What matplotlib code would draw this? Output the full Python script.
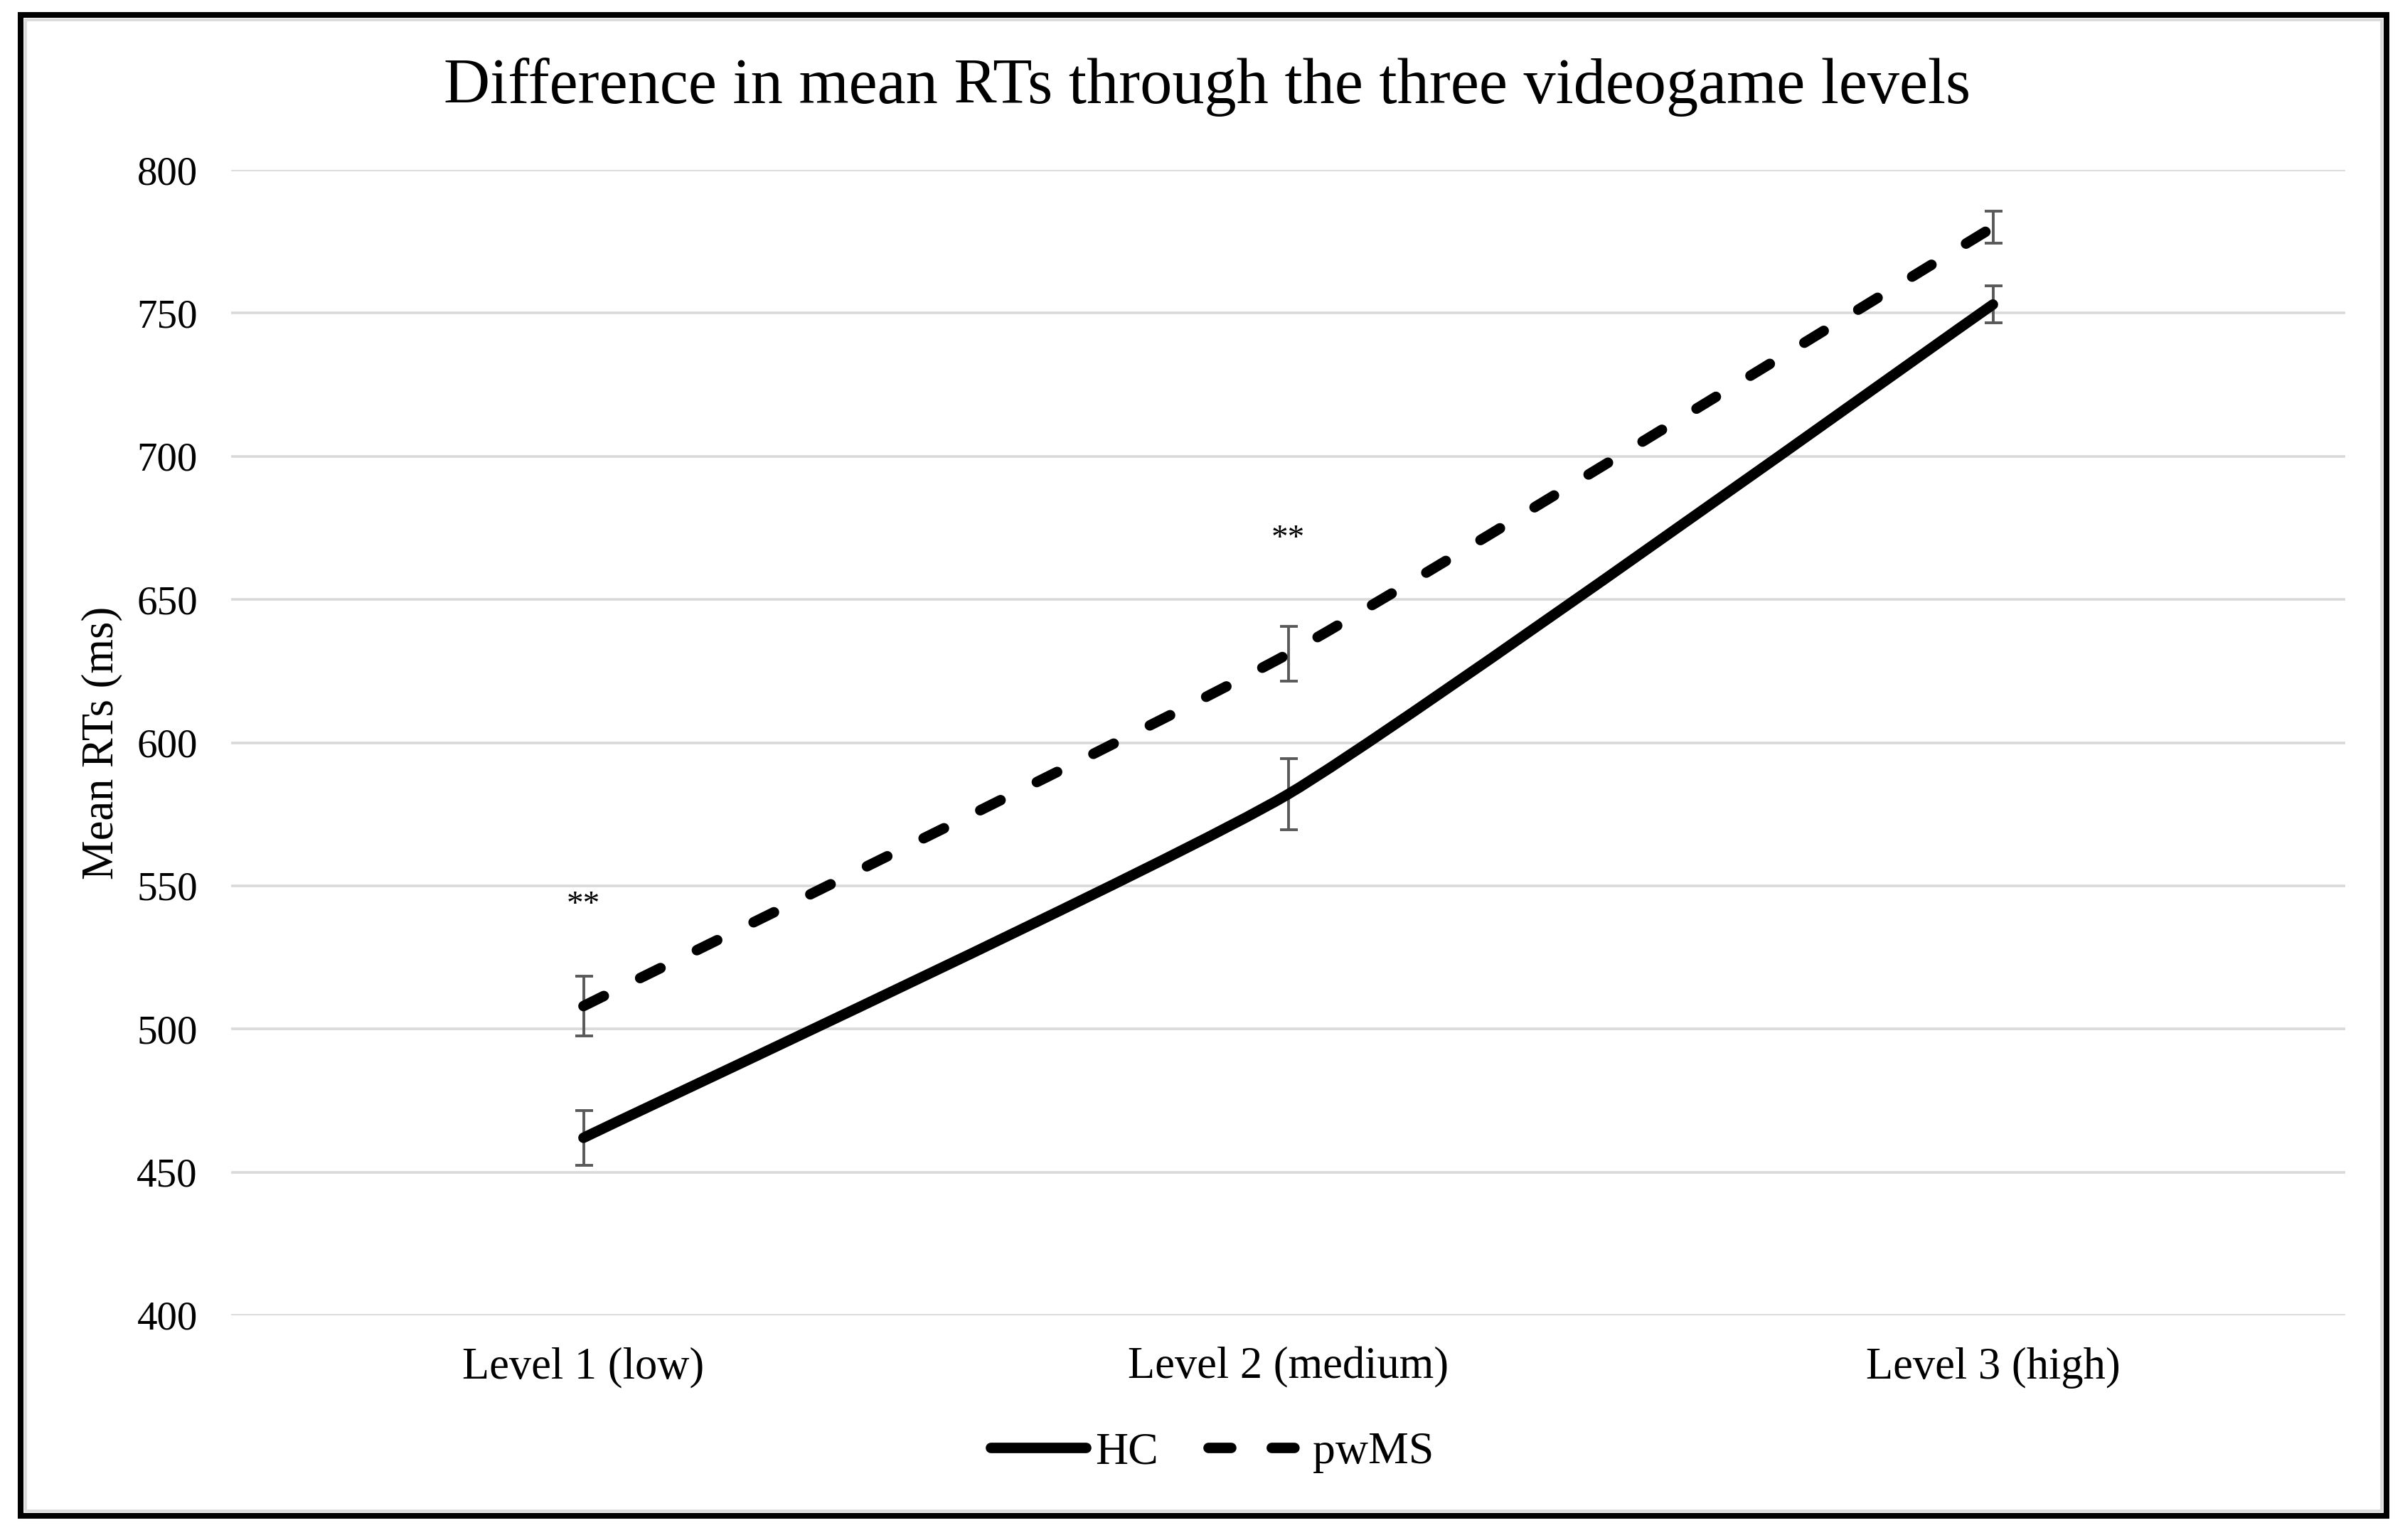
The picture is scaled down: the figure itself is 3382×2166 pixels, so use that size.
import numpy as np
import matplotlib.pyplot as plt
from matplotlib.path import Path
from matplotlib.patches import PathPatch, Rectangle
from matplotlib.lines import Line2D

# --- fonts: Times-like serif as in the Excel original ---
plt.rcParams['font.family'] = 'serif'
plt.rcParams['font.serif'] = ['Liberation Serif', 'DejaVu Serif']
plt.rcParams['lines.scale_dashes'] = False

# --- data ---
levels = ['Level 1 (low)', 'Level 2 (medium)', 'Level 3 (high)']
hc_mean = [462, 582, 753]
hc_err = [9.5, 12.5, 6.5]
pwms_mean = [508, 631, 780]
pwms_err = [10.5, 9.5, 5.5]
sig_marks = ['**', '**', '']
sig_y = [543, 671, 0]


def smooth_path(x, y, k=0.08):
    # Excel-style smoothed line: cubic Bezier segments through the points
    pts = np.column_stack([x, y]).astype(float)
    n = len(pts)
    verts = [pts[0]]
    codes = [Path.MOVETO]
    for i in range(n - 1):
        p_prev = pts[max(i - 1, 0)]
        p_next = pts[min(i + 2, n - 1)]
        c1 = pts[i] + (pts[i + 1] - p_prev) * k
        c2 = pts[i + 1] - (p_next - pts[i]) * k
        verts += [c1, c2, pts[i + 1]]
        codes += [Path.CURVE4] * 3
    return Path(verts, codes)


W, H = 3382, 2166
fig = plt.figure(figsize=(W / 200, H / 200), dpi=200)
ax = fig.add_axes([325 / W, 1 - 1850 / H, (3298 - 325) / W, (1850 - 239) / H])

x = np.arange(len(levels))
lw = 5.3
dash = (0, (11.5, 20.5))

# error bars under the lines
for mean, err in [(hc_mean, hc_err), (pwms_mean, pwms_err)]:
    ax.errorbar(x, mean, yerr=err, fmt='none', ecolor='#595959',
                elinewidth=1.4, capsize=4.5, capthick=1.4, zorder=3)

ax.add_patch(PathPatch(smooth_path(x, hc_mean), fill=False, ec='black', lw=lw,
                       capstyle='round', joinstyle='round', zorder=4))
ax.add_patch(PathPatch(smooth_path(x, pwms_mean), fill=False, ec='black', lw=lw,
                       linestyle=dash, capstyle='round', joinstyle='round', zorder=4))

for xi, mark, yi in zip(x, sig_marks, sig_y):
    if mark:
        ax.text(xi, yi, mark, ha='center', va='center', fontsize=17)

ax.set_xlim(-0.5, len(levels) - 0.5)
ax.set_ylim(400, 800)
ax.set_yticks(np.arange(400, 801, 50))
ax.set_xticks(x)
ax.set_xticklabels(levels)
ax.yaxis.grid(True, color='#d9d9d9', lw=1.3)
ax.set_axisbelow(True)
for s in ax.spines.values():
    s.set_visible(False)
ax.tick_params(length=0)
ax.tick_params(axis='y', pad=17, labelsize=20.5)
ax.tick_params(axis='x', pad=16, labelsize=22.5)
ax.set_ylabel('Mean RTs (ms)', fontsize=22.5, labelpad=7)

fig.text(0.502, 1 - 123 / H, 'Difference in mean RTs through the three videogame levels',
         ha='center', va='center', fontsize=32.5)

handles = [Line2D([], [], color='black', lw=lw, solid_capstyle='round'),
           Line2D([], [], color='black', lw=lw, linestyle=dash, dash_capstyle='round')]
fig.legend(handles, ['HC', 'pwMS'], loc='center', bbox_to_anchor=(0.504, 1 - 2043 / H),
           ncol=2, frameon=False, fontsize=23, handlelength=2.1, handletextpad=0.2,
           columnspacing=1.1)

# chart frame
fig.patches.append(Rectangle((29 / W, 1 - 2132 / H), (3356 - 29) / W, (2132 - 21) / H,
                             transform=fig.transFigure, fill=False, ec='black', lw=2.9))
fig.patches.append(Rectangle((36 / W, 1 - 2125 / H), (3349 - 36) / W, (2125 - 28) / H,
                             transform=fig.transFigure, fill=False, ec='#d9d9d9', lw=1.3))

fig.savefig('out.png', dpi=200, facecolor='white')
